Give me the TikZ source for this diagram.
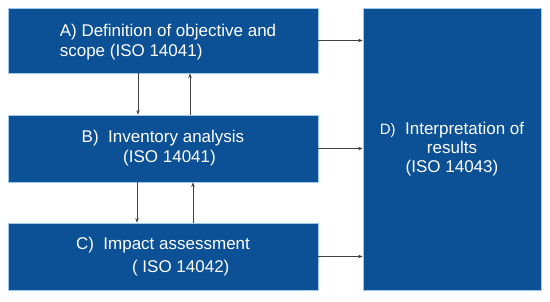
\documentclass[tikz,border=0pt]{standalone}
\usepackage{fontspec}
\setmainfont{Liberation Sans}
\usetikzlibrary{arrows.meta}
\definecolor{boxblue}{RGB}{12,80,150}
\definecolor{edgeblue}{RGB}{160,200,235}
\begin{document}
\begin{tikzpicture}[x=1pt,y=-1pt,
  box/.style={draw=edgeblue, line width=0.8pt, fill=boxblue, text=white,
    inner sep=0pt, font=\fontsize{17}{20}\selectfont},
  lbl/.style={text=white, align=left, font=\fontsize{17}{20}\selectfont, inner sep=0pt},
  arr/.style={draw=black!75, line width=0.7pt, -{Stealth[length=4.5pt,width=3.5pt]}}]
\path[fill=white] (0,0) rectangle (550,301);
\useasboundingbox (0,0) rectangle (550,301);
\node[box, minimum width=310pt, minimum height=65pt] (A) at (163,40.5) {};
\node[lbl, anchor=center] (tA) at (168,42) {A) Definition of objective and\\scope (ISO 14041)};
\node[box, minimum width=310pt, minimum height=67pt, align=center] (B) at (163,148.5)
  {B)\ \ Inventory analysis\\\hspace*{13pt}(ISO 14041)};
\node[box, minimum width=310pt, minimum height=67pt, align=left,
  font=\fontsize{17}{23}\selectfont] (C) at (163,256.5)
  {C)\ \ Impact assessment\\\hspace*{56pt}( ISO 14042)};
\node[box, minimum width=178pt, minimum height=282pt, align=center,
  font=\fontsize{17}{19}\selectfont] (D) at (452,149)
  {{\fontsize{15}{19}\selectfont D)}\ \ Interpretation of\\results\\(ISO 14043)};
\draw[arr] ([xshift=-25pt]A.south) -- ([xshift=-25pt]A.south |- B.north);
\draw[arr] ([xshift=27pt]B.north) -- ([xshift=27pt]B.north |- A.south);
\draw[arr] ([xshift=-26pt]B.south) -- ([xshift=-26pt]B.south |- C.north);
\draw[arr] ([xshift=30pt]C.north) -- ([xshift=30pt]C.north |- B.south);
\draw[arr] (A.east) -- (A.east -| D.west);
\draw[arr] (B.east) -- (B.east -| D.west);
\draw[arr] (C.east) -- (C.east -| D.west);
\end{tikzpicture}
\end{document}
